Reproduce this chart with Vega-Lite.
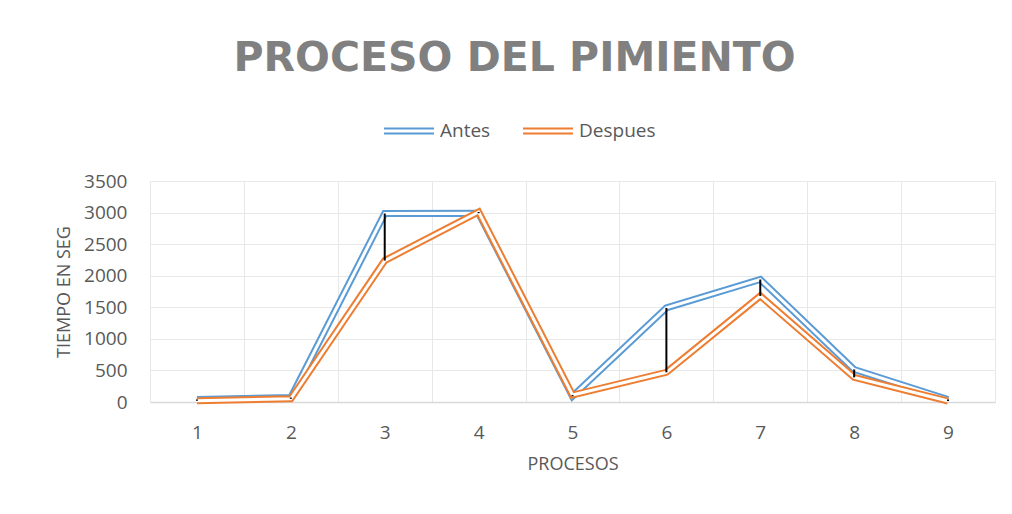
{
  "$schema": "https://vega.github.io/schema/vega-lite/v6.json",
  "width": 845,
  "height": 221,
  "autosize": {"type": "none"},
  "padding": {"left": 150, "top": 181, "right": 17, "bottom": 112},
  "background": "white",
  "config": {"view": {"stroke": null}, "font": "Open Sans"},
  "title": {
    "text": "PROCESO DEL PIMIENTO",
    "fontSize": 41,
    "fontWeight": "bold",
    "color": "#808080",
    "font": "DejaVu Sans",
    "anchor": "middle",
    "dx": -58,
    "offset": 25
  },
  "data": {
    "values": [
      {"proceso": "1", "Antes": 40, "Despues": 20},
      {"proceso": "2", "Antes": 70, "Despues": 50},
      {"proceso": "3", "Antes": 2985, "Despues": 2240},
      {"proceso": "4", "Antes": 2990, "Despues": 3010},
      {"proceso": "5", "Antes": 90, "Despues": 110},
      {"proceso": "6", "Antes": 1490, "Despues": 470},
      {"proceso": "7", "Antes": 1940, "Despues": 1680},
      {"proceso": "8", "Antes": 515, "Despues": 390},
      {"proceso": "9", "Antes": 40, "Despues": 15}
    ]
  },
  "encoding": {
    "x": {
      "field": "proceso",
      "type": "ordinal",
      "scale": {"type": "band", "paddingInner": 0, "paddingOuter": 0},
      "axis": {
        "title": "PROCESOS",
        "labelAngle": 0,
        "labelFontSize": 19,
        "labelColor": "#595959",
        "labelPadding": 21,
        "titleFontSize": 18,
        "titleFontWeight": "normal",
        "titleColor": "#595959",
        "titlePadding": 13,
        "ticks": false,
        "tickBand": "extent",
        "grid": true,
        "gridColor": "#e8e8e8",
        "domain": true,
        "domainColor": "#d9d9d9",
        "domainWidth": 1.5
      }
    }
  },
  "layer": [
    {
      "transform": [{"fold": ["Antes", "Despues"], "as": ["serie", "tiempo"]}, {"filter": "datum.serie === 'Antes'"}],
      "mark": {"type": "line", "strokeWidth": 7, "strokeJoin": "miter"},
      "encoding": {
        "y": {
          "field": "tiempo",
          "type": "quantitative",
          "scale": {"domain": [0, 3500]},
          "axis": {
            "title": "TIEMPO EN SEG",
            "values": [0, 500, 1000, 1500, 2000, 2500, 3000, 3500],
            "format": "d",
            "labelOverlap": false,
            "labelFontSize": 19,
            "labelColor": "#595959",
            "labelPadding": 23,
            "titleFontSize": 18,
            "titleFontWeight": "normal",
            "titleColor": "#595959",
            "titlePadding": 10,
            "ticks": false,
            "domain": false,
            "gridColor": "#e8e8e8"
          }
        },
        "color": {
          "field": "serie",
          "type": "nominal",
          "scale": {"domain": ["Antes", "Despues"], "range": ["#5b9bd5", "#ed7d31"]},
          "legend": {
            "title": null,
            "orient": "none",
            "direction": "horizontal",
            "legendX": 233,
            "legendY": -76,
            "padding": 0,
            "symbolType": "M-1,-0.1H1M-1,0.1H1",
            "symbolSize": 2500,
            "symbolStrokeWidth": 2,
            "labelFontSize": 19,
            "labelColor": "#595959",
            "labelOffset": 5,
            "columnPadding": 28
          }
        }
      }
    },
    {
      "transform": [{"fold": ["Antes", "Despues"], "as": ["serie", "tiempo"]}, {"filter": "datum.serie === 'Antes'"}],
      "mark": {"type": "line", "strokeWidth": 3, "color": "white", "strokeJoin": "miter"},
      "encoding": {
        "y": {
          "field": "tiempo",
          "type": "quantitative",
          "axis": {
            "title": "TIEMPO EN SEG",
            "values": [0, 500, 1000, 1500, 2000, 2500, 3000, 3500],
            "format": "d",
            "labelOverlap": false,
            "labelFontSize": 19,
            "labelColor": "#595959",
            "labelPadding": 23,
            "titleFontSize": 18,
            "titleFontWeight": "normal",
            "titleColor": "#595959",
            "titlePadding": 10,
            "ticks": false,
            "domain": false,
            "gridColor": "#e8e8e8"
          }
        }
      }
    },
    {
      "transform": [{"fold": ["Antes", "Despues"], "as": ["serie", "tiempo"]}, {"filter": "datum.serie === 'Despues'"}],
      "mark": {"type": "line", "strokeWidth": 7, "strokeJoin": "miter"},
      "encoding": {
        "y": {
          "field": "tiempo",
          "type": "quantitative",
          "axis": {
            "title": "TIEMPO EN SEG",
            "values": [0, 500, 1000, 1500, 2000, 2500, 3000, 3500],
            "format": "d",
            "labelOverlap": false,
            "labelFontSize": 19,
            "labelColor": "#595959",
            "labelPadding": 23,
            "titleFontSize": 18,
            "titleFontWeight": "normal",
            "titleColor": "#595959",
            "titlePadding": 10,
            "ticks": false,
            "domain": false,
            "gridColor": "#e8e8e8"
          }
        },
        "color": {"field": "serie", "type": "nominal"}
      }
    },
    {
      "transform": [{"fold": ["Antes", "Despues"], "as": ["serie", "tiempo"]}, {"filter": "datum.serie === 'Despues'"}],
      "mark": {"type": "line", "strokeWidth": 3, "color": "white", "strokeJoin": "miter"},
      "encoding": {
        "y": {
          "field": "tiempo",
          "type": "quantitative",
          "axis": {
            "title": "TIEMPO EN SEG",
            "values": [0, 500, 1000, 1500, 2000, 2500, 3000, 3500],
            "format": "d",
            "labelOverlap": false,
            "labelFontSize": 19,
            "labelColor": "#595959",
            "labelPadding": 23,
            "titleFontSize": 18,
            "titleFontWeight": "normal",
            "titleColor": "#595959",
            "titlePadding": 10,
            "ticks": false,
            "domain": false,
            "gridColor": "#e8e8e8"
          }
        }
      }
    },
    {
      "mark": {"type": "rule", "color": "black", "strokeWidth": 2},
      "encoding": {
        "y": {
          "field": "Antes",
          "type": "quantitative",
          "axis": {
            "title": "TIEMPO EN SEG",
            "values": [0, 500, 1000, 1500, 2000, 2500, 3000, 3500],
            "format": "d",
            "labelOverlap": false,
            "labelFontSize": 19,
            "labelColor": "#595959",
            "labelPadding": 23,
            "titleFontSize": 18,
            "titleFontWeight": "normal",
            "titleColor": "#595959",
            "titlePadding": 10,
            "ticks": false,
            "domain": false,
            "gridColor": "#e8e8e8"
          }
        },
        "y2": {"field": "Despues"}
      }
    }
  ]
}
